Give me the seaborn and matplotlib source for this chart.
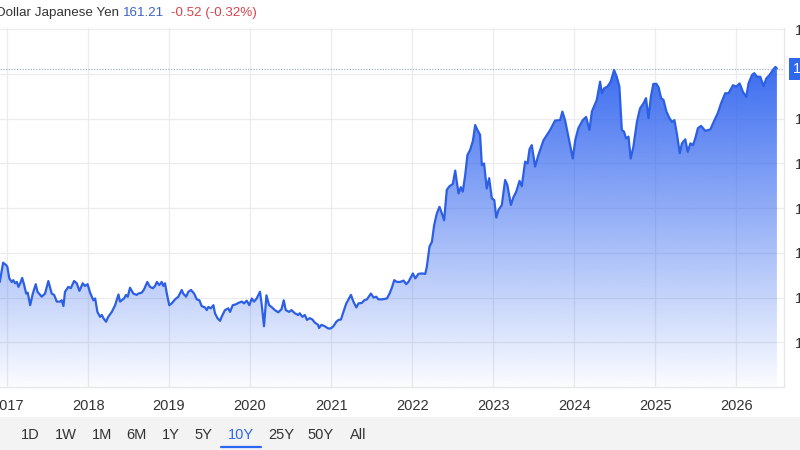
import numpy as np
import pandas as pd
import matplotlib
matplotlib.use("Agg")
import matplotlib.pyplot as plt
import matplotlib.dates as mdates
import matplotlib.transforms as mtransforms
from matplotlib.patches import Rectangle
from matplotlib.lines import Line2D
import seaborn as sns

# USD/JPY weekly-ish closes
dates = [
    "2016-11-29", "2016-12-14", "2016-12-27", "2017-01-02", "2017-01-11", "2017-01-22", "2017-01-29",
    "2017-02-06", "2017-02-14", "2017-02-21", "2017-03-01", "2017-03-10", "2017-03-19", "2017-03-28",
    "2017-04-04", "2017-04-15", "2017-04-27", "2017-05-10", "2017-05-18", "2017-06-06", "2017-06-21",
    "2017-07-06", "2017-07-21", "2017-08-01", "2017-08-13", "2017-08-28", "2017-09-04", "2017-09-12",
    "2017-09-19", "2017-10-04", "2017-10-15", "2017-10-30", "2017-11-11", "2017-11-23", "2017-12-08",
    "2017-12-18", "2017-12-30", "2018-01-10", "2018-01-25", "2018-02-02", "2018-02-12", "2018-02-24",
    "2018-03-04", "2018-03-11", "2018-03-23", "2018-04-02", "2018-04-18", "2018-05-03", "2018-05-18",
    "2018-05-25", "2018-06-12", "2018-06-21", "2018-06-29", "2018-07-09", "2018-07-24", "2018-08-08",
    "2018-08-16", "2018-08-31", "2018-09-10", "2018-09-25", "2018-10-07", "2018-10-20", "2018-10-30",
    "2018-11-07", "2018-11-18", "2018-11-29", "2018-12-06", "2018-12-14", "2018-12-22", "2019-01-02",
    "2019-01-13", "2019-01-28", "2019-02-12", "2019-02-27", "2019-03-06", "2019-03-19", "2019-03-29",
    "2019-04-10", "2019-04-24", "2019-05-06", "2019-05-18", "2019-05-28", "2019-06-12", "2019-06-20",
    "2019-06-27", "2019-07-08", "2019-07-20", "2019-07-27", "2019-08-07", "2019-08-19", "2019-08-26",
    "2019-09-10", "2019-09-25", "2019-10-03", "2019-10-15", "2019-10-30", "2019-11-09", "2019-11-25",
    "2019-12-05", "2019-12-17", "2019-12-29", "2020-01-09", "2020-01-19", "2020-01-31", "2020-02-15",
    "2020-02-23", "2020-03-04", "2020-03-15", "2020-03-27", "2020-04-07", "2020-04-22", "2020-05-07",
    "2020-05-22", "2020-06-01", "2020-06-10", "2020-06-25", "2020-07-06", "2020-07-21", "2020-08-05",
    "2020-08-12", "2020-08-24", "2020-09-04", "2020-09-14", "2020-09-26", "2020-10-08", "2020-10-19",
    "2020-11-03", "2020-11-07", "2020-11-18", "2020-12-03", "2020-12-18", "2020-12-30", "2021-01-11",
    "2021-01-24", "2021-02-03", "2021-02-14", "2021-02-25", "2021-03-10", "2021-03-20", "2021-03-31",
    "2021-04-11", "2021-04-24", "2021-05-04", "2021-05-19", "2021-05-30", "2021-06-11", "2021-06-29",
    "2021-07-11", "2021-07-23", "2021-08-02", "2021-08-17", "2021-09-09", "2021-09-21", "2021-10-02",
    "2021-10-12", "2021-10-24", "2021-11-08", "2021-11-23", "2021-12-05", "2021-12-15", "2022-01-04",
    "2022-01-15", "2022-01-29", "2022-02-14", "2022-03-01", "2022-03-08", "2022-03-20", "2022-03-31",
    "2022-04-10", "2022-04-22", "2022-05-04", "2022-05-15", "2022-05-25", "2022-06-06", "2022-06-18",
    "2022-07-03", "2022-07-14", "2022-07-21", "2022-07-29", "2022-08-08", "2022-08-17", "2022-08-28",
    "2022-09-07", "2022-09-19", "2022-10-02", "2022-10-12", "2022-10-22", "2022-11-03", "2022-11-11",
    "2022-11-21", "2022-12-03", "2022-12-14", "2022-12-26", "2023-01-06", "2023-01-15", "2023-01-25",
    "2023-02-09", "2023-02-24", "2023-03-06", "2023-03-22", "2023-04-02", "2023-04-15", "2023-04-30",
    "2023-05-10", "2023-05-25", "2023-06-05", "2023-06-14", "2023-06-24", "2023-07-09", "2023-07-24",
    "2023-08-16", "2023-09-15", "2023-10-07", "2023-10-30", "2023-11-09", "2023-11-21", "2023-12-06",
    "2023-12-26", "2024-01-06", "2024-01-20", "2024-02-09", "2024-02-24", "2024-03-10", "2024-03-21",
    "2024-04-12", "2024-04-27", "2024-05-05", "2024-05-15", "2024-05-30", "2024-06-14", "2024-06-29",
    "2024-07-11", "2024-07-23", "2024-08-03", "2024-08-13", "2024-08-22", "2024-09-02", "2024-09-12",
    "2024-09-24", "2024-10-10", "2024-10-24", "2024-11-08", "2024-11-20", "2024-12-01", "2024-12-12",
    "2024-12-23", "2025-01-06", "2025-01-16", "2025-01-27", "2025-02-07", "2025-02-20", "2025-03-06",
    "2025-03-17", "2025-03-28", "2025-04-09", "2025-04-21", "2025-05-01", "2025-05-16", "2025-05-27",
    "2025-06-08", "2025-06-20", "2025-06-30", "2025-07-12", "2025-07-26", "2025-08-14", "2025-09-06",
    "2025-09-21", "2025-10-09", "2025-10-24", "2025-11-12", "2025-11-27", "2025-12-17", "2026-01-01",
    "2026-01-16", "2026-01-31", "2026-02-15", "2026-02-25", "2026-03-13", "2026-03-23", "2026-04-04",
    "2026-04-19", "2026-05-04", "2026-05-16", "2026-05-31", "2026-06-15", "2026-06-26", "2026-07-03",
]
rates = [
    113.5, 117.8, 117.3, 116.9, 114.3, 113.5, 113.9,
    113.2, 113.5, 112.4, 113.2, 114.4, 112.8, 110.9,
    111.1, 108.3, 110.9, 113.0, 111.3, 110.2, 110.9,
    113.7, 110.9, 110.6, 109.1, 109.1, 109.4, 108.1,
    111.3, 112.4, 112.1, 113.7, 113.2, 111.5, 113.2,
    112.6, 113.0, 111.1, 109.4, 109.8, 106.8, 105.7,
    106.1, 105.4, 104.6, 105.7, 106.8, 108.3, 110.7,
    109.1, 109.8, 110.6, 110.2, 112.2, 110.9, 110.6,
    110.9, 111.1, 111.8, 113.5, 112.4, 112.1, 112.6,
    113.5, 112.8, 113.5, 112.6, 113.2, 110.9, 108.3,
    108.7, 109.6, 110.2, 111.7, 110.9, 110.2, 111.3,
    111.7, 110.9, 109.6, 109.4, 108.1, 107.8, 107.2,
    107.9, 107.6, 108.3, 106.5, 105.4, 104.8, 105.7,
    107.2, 107.6, 106.8, 108.3, 108.5, 108.8, 109.1,
    108.7, 109.3, 108.3, 109.8, 109.1, 109.8, 111.3,
    108.3, 103.6, 110.5, 108.3, 107.9, 107.2, 106.7,
    107.4, 109.4, 107.2, 106.8, 107.2, 106.5, 106.1,
    106.5, 105.7, 106.1, 105.0, 105.4, 105.1, 104.4,
    103.9, 103.2, 103.9, 103.6, 103.1, 103.1, 103.6,
    104.6, 105.0, 105.1, 106.8, 108.7, 109.6, 110.6,
    109.1, 107.8, 108.7, 108.8, 109.4, 109.6, 110.9,
    110.0, 110.2, 109.6, 109.6, 109.8, 110.9, 112.3,
    113.9, 113.5, 113.5, 113.8, 113.0, 113.5, 115.4,
    114.3, 115.3, 115.4, 115.3, 116.9, 121.4, 122.5,
    126.2, 128.8, 130.3, 128.8, 127.3, 134.1, 134.9,
    135.4, 138.4, 135.9, 133.3, 134.7, 133.7, 137.4,
    141.9, 143.0, 145.1, 148.6, 147.5, 146.4, 139.6,
    140.0, 134.4, 136.7, 132.2, 131.8, 127.9, 129.6,
    130.7, 136.3, 135.2, 130.7, 132.4, 133.7, 136.1,
    134.9, 140.4, 140.0, 143.2, 144.1, 139.3, 141.9,
    145.2, 147.5, 149.6, 149.7, 151.6, 149.7, 146.0,
    141.1, 145.2, 147.9, 149.7, 150.4, 147.5, 151.6,
    154.2, 158.3, 155.7, 156.8, 157.2, 158.3, 160.9,
    159.4, 157.2, 147.5, 147.1, 145.6, 146.0, 141.1,
    143.7, 149.3, 152.3, 153.4, 154.6, 150.1, 154.9,
    157.8, 157.8, 157.0, 154.6, 154.2, 151.6, 150.1,
    149.3, 149.7, 146.4, 142.3, 144.5, 145.4, 142.6,
    144.5, 144.1, 145.6, 147.9, 148.4, 147.3, 147.6,
    149.3, 151.2, 153.4, 155.7, 155.7, 157.5, 157.2,
    157.9, 156.0, 154.9, 157.9, 159.8, 160.2, 159.4,
    159.4, 157.3, 159.0, 159.8, 160.9, 161.6, 161.21,
]
year_ticks = list(range(2017, 2027))
price_ticks = [100, 110, 120, 130, 140, 150, 160, 170]
range_buttons = ["1D", "1W", "1M", "6M", "1Y", "5Y", "10Y", "25Y", "50Y", "All"]
last_price = 161.21
change_text = "-0.52 (-0.32%)"

df = pd.DataFrame({"date": pd.to_datetime(dates), "rate": rates})

sns.set_style("white")
plt.rcParams["font.family"] = ["Liberation Sans", "DejaVu Sans"]

W, H = 800, 450
fig = plt.figure(figsize=(8, 4.5), dpi=100)
ax = fig.add_axes([0, 1 - 387 / H, 784 / W, (387 - 28) / H])

line_color = "#2c5fe3"
fill_rgb = (0.20, 0.40, 0.94)

x0 = mdates.date2num(pd.Timestamp("2016-11-30"))
x1 = mdates.date2num(pd.Timestamp("2026-08-04"))
ymin, ymax = 90, 170.3

# gradient area under the line
xs = mdates.date2num(df["date"])
poly = ax.fill_between(xs, df["rate"], ymin, color="none", lw=0)
grad = np.zeros((256, 1, 4))
grad[:, :, 0], grad[:, :, 1], grad[:, :, 2] = fill_rgb
grad[:, 0, 3] = np.linspace(0.02, 0.95, 256)
img = ax.imshow(grad, extent=[x0, x1, ymin, 161.5], origin="lower",
                aspect="auto", zorder=1, interpolation="bilinear")
img.set_clip_path(poly.get_paths()[0], transform=ax.transData)

sns.lineplot(data=df, x="date", y="rate", ax=ax, color=line_color,
             linewidth=1.6, zorder=3)

ax.axhline(last_price, color="#9fb3dd", linestyle=(0, (1, 1.2)), linewidth=0.9, zorder=2)

ax.set_xlim(x0, x1)
ax.set_ylim(ymin, ymax)
ax.set_xlabel("")
ax.set_ylabel("")

ax.set_xticks([mdates.date2num(pd.Timestamp(f"{y}-01-01")) for y in year_ticks])
ax.set_xticklabels([str(y) for y in year_ticks])
ax.set_yticks(price_ticks)
ax.set_yticklabels([str(p) for p in price_ticks])
ax.yaxis.tick_right()
ax.tick_params(axis="x", length=0, pad=9, labelsize=10.5, labelcolor="#333333")
ax.tick_params(axis="y", length=0, pad=8, labelsize=10.5, labelcolor="#333333")
ax.grid(True, color="#ececec", linewidth=0.9, zorder=0)
ax.set_axisbelow(True)
for side in ["left", "top"]:
    ax.spines[side].set_visible(False)
for side in ["bottom", "right"]:
    ax.spines[side].set_color("#e6e6e6")
    ax.spines[side].set_linewidth(0.9)

# last price tag on the right axis
trans = mtransforms.blended_transform_factory(ax.transAxes, ax.transData)
ax.text(1.0115, last_price, f"{last_price:.2f}", transform=trans, color="white",
        fontsize=10.5, va="center", ha="left", clip_on=False, zorder=5,
        bbox=dict(boxstyle="square,pad=0.28", fc="#2e68ee", ec="none"))

# header
ty = 1 - 13 / H
fig.text(-4 / W, ty, "Dollar Japanese Yen", fontsize=9.6, color="#333333", va="center")
fig.text(123 / W, ty, f"{last_price:.2f}", fontsize=9.6, color="#3b63c9", va="center")
fig.text(171 / W, ty, change_text, fontsize=9.6, color="#d9434b", va="center")

# range selector bar
fig.patches.append(Rectangle((0, 0), 1, (H - 417) / H, transform=fig.transFigure,
                             facecolor="#f3f3f3", edgecolor="none", zorder=0))
btn_x = [30, 66, 102, 136, 171, 203, 241, 281, 321, 358]
for lbl, bx in zip(range_buttons, btn_x):
    fig.text(bx / W, 1 - 435 / H, lbl, fontsize=10.5, ha="center", va="center",
             color="#2e68ee" if lbl == "10Y" else "#333333")
fig.lines.append(Line2D([221 / W, 261 / W], [1 - 447 / H] * 2, transform=fig.transFigure,
                        color="#2e68ee", linewidth=1.6))

fig.savefig("out.png", dpi=100)
